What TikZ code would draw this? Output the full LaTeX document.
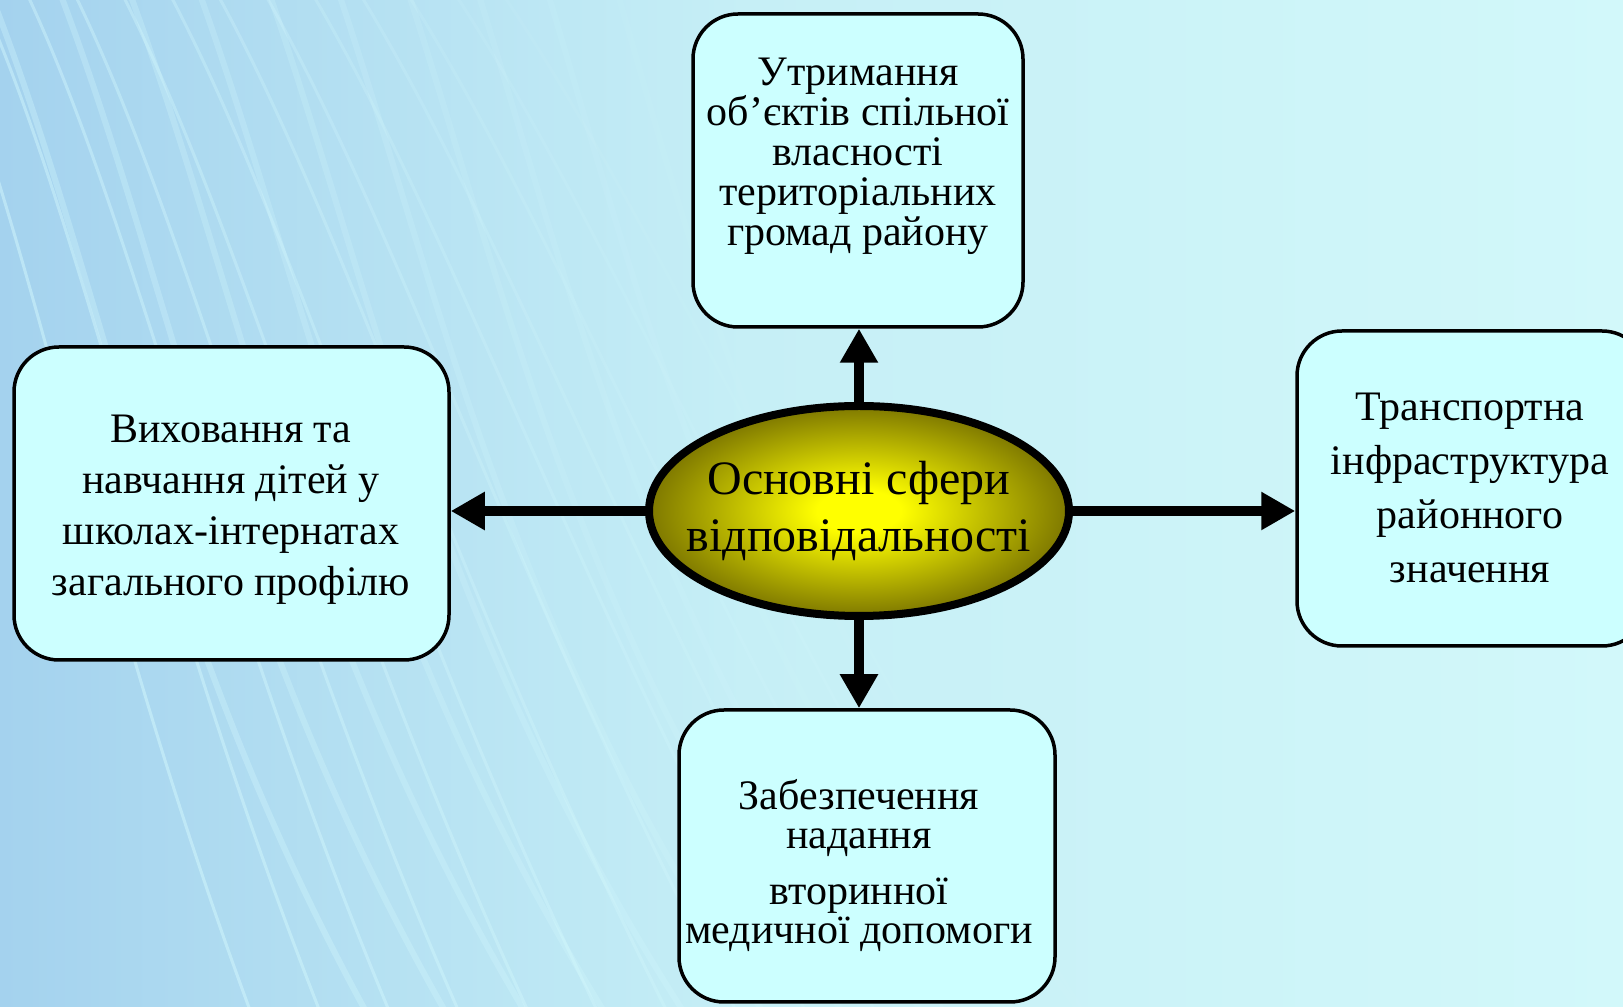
\documentclass[tikz,border=0pt]{standalone}
\usepackage{fontspec}
\setmainfont{Liberation Serif}
\usetikzlibrary{arrows.meta,shapes.geometric}
\definecolor{boxfill}{HTML}{CCFFFF}
\definecolor{bgleft}{HTML}{A4D2EE}
\definecolor{bgmid}{HTML}{C6EFF6}
\definecolor{bgright}{HTML}{D2F8FA}
\definecolor{streakc}{HTML}{D8FCFF}
\definecolor{olivedark}{HTML}{7E7800}
\pgfdeclareradialshading{sunglow}{\pgfpoint{0bp}{0bp}}{color(0bp)=(yellow); color(5bp)=(yellow); color(25bp)=(olivedark); color(50bp)=(olivedark)}
\pgfdeclarehorizontalshading{backdrop}{100bp}{color(0bp)=(bgleft); color(25bp)=(bgleft); color(48bp)=(bgmid); color(75bp)=(bgright); color(100bp)=(bgright)}
\begin{document}
\begin{tikzpicture}[x=1pt, y=1pt,
        area/.style={draw, line width=3.5pt, rounded corners=45pt, fill=boxfill},
        words/.style={align=center, inner sep=0pt},
        push/.style={line width=10pt, -{Triangle[width=36pt, length=34pt]}},
        streak/.style={streakc, line width=3pt, line cap=round}]
        \useasboundingbox (0, 0) rectangle (1623, 1007);
        \clip (0, 0) rectangle (1623, 1007);
        \shade[shading=backdrop] (0, 0) rectangle (1623, 1007);
        \foreach \k [evaluate=\k as \op using 0.45-\k*0.03] in {0,...,12}
                \draw[streak, opacity=\op] ({-80+\k*47}, 1040) .. controls ({30+\k*52}, 800) and ({90+\k*60}, 420) .. ({260+\k*70}, -30);
        \foreach \k [evaluate=\k as \op using 0.3-\k*0.025] in {0,...,9}
                \draw[streak, line width=6pt, opacity=\op] ({-20+\k*70}, 1040) .. controls ({110+\k*66}, 720) and ({150+\k*70}, 380) .. ({380+\k*80}, -30);

        \node[area, minimum width=330pt, minimum height=313pt] (upkeep) at (858, 836.5) {};
        \node[area, minimum width=435pt, minimum height=313pt] (school) at (231.5, 503.5) {};
        \node[area, minimum width=350pt, minimum height=315pt] (transport) at (1472, 518.5) {};
        \node[area, minimum width=376pt, minimum height=292pt] (medic) at (867, 151) {};

        \node[words, font=\fontsize{42}{40}\selectfont] (upkeep-txt) at (858, 851) {Утримання\\об’єктів спільної\\власності\\територіальних\\громад району};
        \node[words, font=\fontsize{42}{51}\selectfont] (school-txt) at (231, 497) {Виховання та\\навчання дітей у\\школах-інтернатах\\загального профілю};
        \node[words, font=\fontsize{42}{54}\selectfont] (transport-txt) at (1470, 519) {Транспортна\\інфраструктура\\районного\\значення};
        \node[words, font=\fontsize{42}{39}\selectfont] (medic-txt) at (859, 141) {Забезпечення\\надання\\[17pt]вторинної\\медичної допомоги};

        \node[ellipse, draw, line width=8pt, shade, shading=sunglow, minimum width=420pt, minimum height=210pt,
                inner xsep=-40pt, inner ysep=0pt, align=center, font=\fontsize{48}{57}\selectfont] (hub) at (859, 496) {Основні сфери\\відповідальності};

        \draw[push] (hub.north) -- (hub.north |- upkeep.south);
        \draw[push] (hub.south) -- (hub.south |- medic.north);
        \draw[push] (hub.west) -- (hub.west -| school.east);
        \draw[push] (hub.east) -- (hub.east -| transport.west);
\end{tikzpicture}
\end{document}
